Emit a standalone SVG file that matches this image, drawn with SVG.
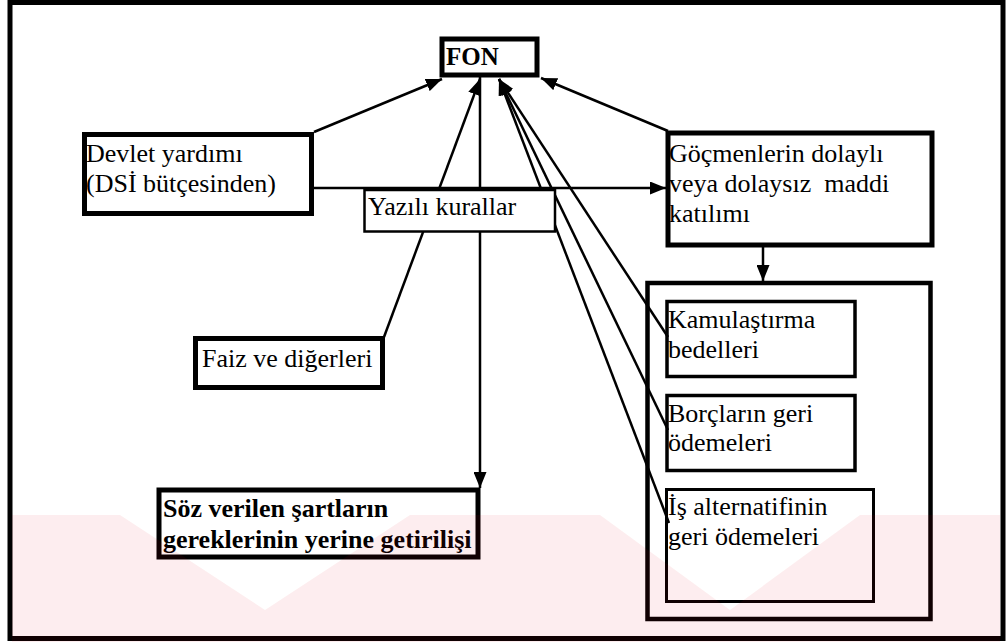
<svg xmlns="http://www.w3.org/2000/svg" width="1006" height="644" viewBox="0 0 1006 644">
<style>
.box{fill:#fff;stroke:#000}
text{font-family:'Liberation Serif','DejaVu Serif',serif;font-size:26px;fill:#000}
.b{font-weight:bold}
.c{stroke:#000;stroke-width:2.5;fill:none}
</style>
<defs>
<marker id="ah" markerUnits="userSpaceOnUse" markerWidth="16" markerHeight="13" refX="16" refY="6.5" orient="auto">
<path d="M0,0 L16,6.5 L0,13 z" fill="#000"/>
</marker>
</defs>
<rect x="0" y="0" width="1006" height="644" fill="#fff"/>
<rect id="frame" x="10" y="2.5" width="993" height="636" fill="none" stroke="#000" stroke-width="5"/>

<g id="node-fon">
<rect class="box" x="442" y="39" width="95" height="36" stroke-width="5"/>
<text class="b" x="446" y="65" font-family="Liberation Serif, serif" style="font-size:25px">FON</text>
</g>
<g id="node-devlet">
<rect class="box" x="84.5" y="134.5" width="227" height="79" stroke-width="5"/>
<text x="86" y="162">Devlet yardımı</text>
<text x="86" y="192">(DSİ bütçesinden)</text>
</g>
<g id="node-gocmen">
<rect class="box" x="668" y="133" width="264" height="112" stroke-width="5"/>
<text x="669" y="162">Göçmenlerin dolaylı</text>
<text x="669" y="192" xml:space="preserve">veya dolaysız  maddi</text>
<text x="669" y="222">katılımı</text>
</g>
<g id="node-group">
<rect class="box" x="647.5" y="283" width="283" height="336" stroke-width="4.5"/>
</g>
<g id="node-kamu">
<rect class="box" x="667" y="301.5" width="188" height="75" stroke-width="3.5"/>
<text x="668" y="328">Kamulaştırma</text>
<text x="668" y="358">bedelleri</text>
</g>
<g id="node-borc">
<rect class="box" x="667" y="395.5" width="188" height="75" stroke-width="3.5"/>
<text x="668" y="422">Borçların geri</text>
<text x="668" y="451">ödemeleri</text>
</g>
<g id="node-is">
<rect class="box" x="666.5" y="489.5" width="207" height="112" stroke-width="3"/>
<text x="668" y="515">İş alternatifinin</text>
<text x="668" y="545">geri ödemeleri</text>
</g>
<g id="node-faiz">
<rect class="box" x="195.5" y="338.5" width="187" height="49" stroke-width="5"/>
<text x="202" y="367">Faiz ve diğerleri</text>
</g>
<g id="node-soz">
<rect class="box" x="159" y="490" width="319" height="67" stroke-width="5"/>
<text class="b" x="163" y="517">Söz verilen şartların</text>
<text class="b" x="163" y="548">gereklerinin yerine getirilişi</text>
</g>

<g id="connectors">
<line class="c" x1="314" y1="132" x2="442" y2="79" marker-end="url(#ah)"/>
<line class="c" x1="384" y1="337" x2="480" y2="79" marker-end="url(#ah)"/>
<line class="c" x1="480" y1="77" x2="480" y2="488" marker-end="url(#ah)"/>
<line class="c" x1="668" y1="337" x2="499" y2="79" marker-end="url(#ah)"/>
<line class="c" x1="668" y1="430" x2="499" y2="79" marker-end="url(#ah)"/>
<line class="c" x1="669" y1="523" x2="499" y2="79" marker-end="url(#ah)"/>
<line class="c" x1="668" y1="131" x2="541" y2="78" marker-end="url(#ah)"/>
<line class="c" x1="314" y1="188" x2="666" y2="188" marker-end="url(#ah)"/>
<line class="c" x1="763" y1="247" x2="763" y2="281" marker-end="url(#ah)"/>
</g>

<g id="node-yazili">
<rect class="box" x="364.5" y="190" width="190.5" height="41.5" stroke-width="2.5"/>
<text x="368" y="215">Yazılı kurallar</text>
</g>

<g id="watermark" fill="#e60023" fill-opacity="0.07">
<path fill-rule="evenodd" d="M12,515 H1000 V642 H12 Z M120,515 L410,515 L265,610 Z M600,515 L860,515 L730,610 Z"/>
</g>
</svg>
